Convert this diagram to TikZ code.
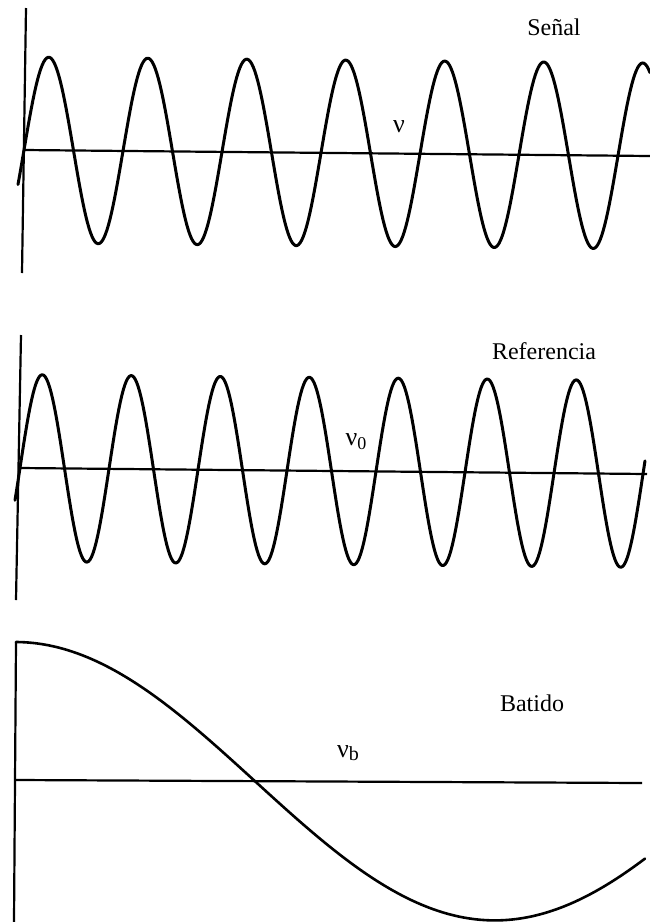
\documentclass[tikz,border=0pt]{standalone}
\usepackage{fontspec}
\setmainfont{Liberation Serif}
\begin{document}
\begin{tikzpicture}[x=1pt,y=-1pt,
  wave/.style={line width=3pt, line join=round, line cap=round},
  slowwave/.style={line width=2.6pt, line join=round, line cap=round},
  axis/.style={line width=2.2pt},
  lbl/.style={font=\fontsize{24}{24}\selectfont, anchor=base, inner sep=0pt},
  greek/.style={font=\fontsize{26}{26}\selectfont, anchor=base, inner sep=0pt}]
\useasboundingbox[fill=white] (0,0) rectangle (650,922);

% ---------- Panel 1: Señal ----------
\coordinate (a1t) at (26,8);
\coordinate (a1b) at (22,273);
\coordinate (h1l) at (24,150);
\coordinate (h1r) at (650,156);
\draw[axis] (a1t) -- (a1b);
\draw[axis] (h1l) -- (h1r);
\draw[wave] plot[domain=18:650, samples=420] (\x, {150+0.0096*(\x-24)-93*sin((\x-24)/99*360)});
\node[lbl] (senal) at (554,35) {Señal};
\node[greek] (nu) at (399,132) {ν};

% ---------- Panel 2: Referencia ----------
\coordinate (a2t) at (21,335);
\coordinate (a2b) at (16,600);
\coordinate (h2l) at (20,468);
\coordinate (h2r) at (647,474);
\draw[axis] (a2t) -- (a2b);
\draw[axis] (h2l) -- (h2r);
\draw[wave] plot[domain=15:645, samples=420] (\x, {468+0.0096*(\x-20)-93.5*sin((\x-20)/89*360)});
\node[lbl] (ref) at (544,359) {Referencia};
\node[greek] (nu0) at (356,445) {ν\raisebox{-4pt}{\fontsize{18}{18}\selectfont 0}};

% ---------- Panel 3: Batido ----------
\coordinate (a3t) at (16,642);
\coordinate (a3b) at (14,922);
\coordinate (h3l) at (16,780);
\coordinate (h3r) at (642,783);
\draw[axis] (a3t) -- (a3b);
\draw[axis] (h3l) -- (h3r);
\draw[slowwave] plot[domain=16:645, samples=300] (\x, {780+0.005*(\x-16)-138*cos((\x-16)/478*180)});
\node[lbl] (bat) at (532,711) {Batido};
\node[greek] (nub) at (348,757) {ν\raisebox{-3pt}{\fontsize{20}{20}\selectfont b}};
\end{tikzpicture}
\end{document}
